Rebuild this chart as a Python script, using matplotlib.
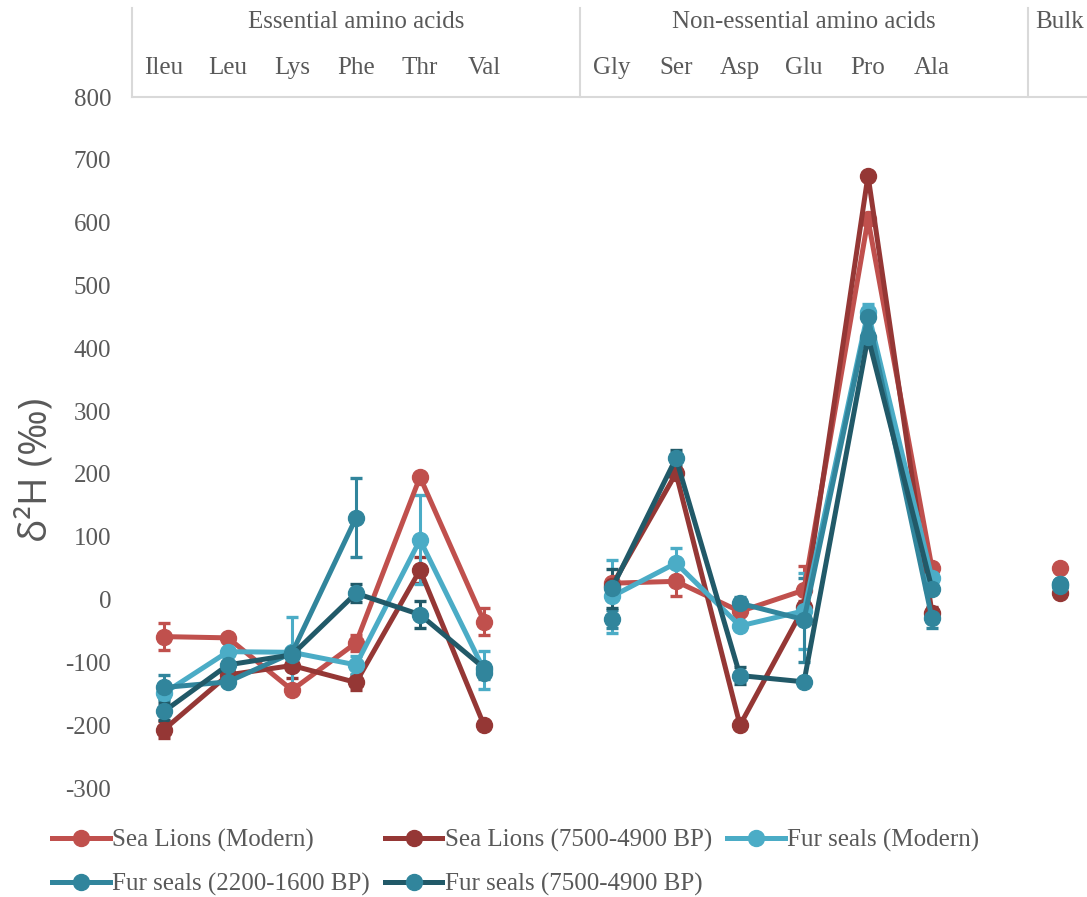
import numpy as np
import matplotlib.pyplot as plt
from matplotlib import transforms

nan = np.nan

# x slots: two blank slots split the three groups
categories = ["Ileu", "Leu", "Lys", "Phe", "Thr", "Val", "",
              "Gly", "Ser", "Asp", "Glu", "Pro", "Ala", "", "Bulk"]
groups = ["Essential amino acids", "Non-essential amino acids", "Bulk"]
group_spans = [(-0.5, 6.5), (6.5, 13.5), (13.5, 14.5)]

series_names = ["Sea Lions (Modern)", "Sea Lions (7500-4900 BP)",
                "Fur seals (Modern)", "Fur seals (2200-1600 BP)",
                "Fur seals (7500-4900 BP)"]

sl_modern = [-59, -61, -144, -69, 195, -35, nan, 26, 29, -19, 15, 605, 50, nan, 50]
sl_modern_err = [21, 4, 4, 13, 4, 21, nan, 4, 23, 4, 38, 4, 4, nan, 0]

sl_7500 = [-207, -120, -105, -132, 47, -200, nan, 22, 201, -200, -12, 675, -22, nan, 11]
sl_7500_err = [14, 4, 20, 12, 20, 4, nan, 4, 4, 4, 10, 4, 10, nan, 0]

fs_modern = [-149, -83, -84, -104, 95, -112, nan, 5, 58, -42, -18, 458, 34, nan, 24]
fs_modern_err = [10, 4, 56, 14, 71, 30, nan, 58, 24, 4, 60, 13, 4, nan, 0]

fs_2200 = [-140, -131, -85, 130, nan, -117, nan, -31, nan, -6, -32, 450, -30, nan, 24]
fs_2200_err = [20, 4, 4, 63, nan, 10, nan, 14, nan, 10, 67, 4, 16, nan, 0]

fs_7500 = [-178, -104, -88, 10, -24, -109, nan, 18, 225, -121, -131, 418, 17, nan, 22]
fs_7500_err = [13, 4, 4, 14, 21, 4, nan, 31, 13, 14, 4, 4, 4, nan, 0]

y_ticks = list(range(-300, 900, 100))

values = [sl_modern, sl_7500, fs_modern, fs_2200, fs_7500]
errors = [sl_modern_err, sl_7500_err, fs_modern_err, fs_2200_err, fs_7500_err]
line_colors = ["#C0504D", "#953735", "#4BACC6", "#31859C", "#215968"]
marker_colors = ["#C0504D", "#953735", "#4BACC6", "#31859C", "#31859C"]

TEXT = "#595959"
RULE = "#D9D9D9"
plt.rcParams["font.family"] = ["Liberation Serif", "DejaVu Serif"]

W, H = 1087, 897
fig = plt.figure(figsize=(W / 100, H / 100), dpi=100)
ax = fig.add_axes([132 / W, 1 - 788 / H, (W - 132) / W, 691 / H])

x = np.arange(len(categories))
handles = []
for vals, errs, lc, mc, name in zip(values, errors, line_colors, marker_colors, series_names):
    cont = ax.errorbar(x, vals, yerr=errs, color=lc, lw=3.6,
                       marker="o", ms=11.5, mfc=mc, mec=mc,
                       ecolor=lc, elinewidth=2.2, capsize=4.5, capthick=2.4,
                       label=name)
    handles.append(cont.lines[0])

ax.set_xlim(-0.5, -0.5 + (W - 132) / 64)
ax.set_ylim(-300, 800)
ax.set_yticks(y_ticks)
ax.set_yticklabels([str(v) for v in y_ticks])
ax.set_xticks([])
ax.tick_params(axis="y", length=0, pad=15, labelsize=18, labelcolor=TEXT)

for side in ("left", "right", "bottom"):
    ax.spines[side].set_visible(False)
ax.spines["top"].set_color(RULE)
ax.spines["top"].set_linewidth(1.5)

# two-level category header above the plot; a group with a single
# category (Bulk) only shows its name on the upper row
trans = transforms.blended_transform_factory(ax.transData, ax.transAxes)
head_top = (788 - 8) / 691
for i, cat in enumerate(categories):
    if cat and cat not in groups:
        ax.text(i, (788 - 68) / 691, cat, transform=trans, ha="center",
                va="center", fontsize=18, color=TEXT, clip_on=False)
for name, (lo, hi) in zip(groups, group_spans):
    ax.text((lo + hi) / 2, (788 - 22) / 691, name, transform=trans,
            ha="center", va="center", fontsize=18, color=TEXT, clip_on=False)
    ax.plot([lo, lo], [1, head_top], transform=trans, color=RULE,
            lw=1.5, clip_on=False)

fig.text(36 / W, 1 - 470 / H, "δ²H (‰)", rotation=90, ha="center",
         va="center", fontsize=28, color=TEXT,
         family=["Open Sans", "DejaVu Sans"])

# legend reads row by row, matplotlib fills columns first
order = [0, 3, 1, 4, 2]
leg = fig.legend([handles[i] for i in order], [series_names[i] for i in order],
                 ncol=3, loc="upper left", bbox_to_anchor=(52 / W, 1 - 829 / H),
                 frameon=False, fontsize=18, handlelength=2.3,
                 handletextpad=0.1, columnspacing=0.6, labelspacing=0.85,
                 borderpad=0, borderaxespad=0)
for t in leg.get_texts():
    t.set_color(TEXT)

fig.savefig("out.png", dpi=100)
